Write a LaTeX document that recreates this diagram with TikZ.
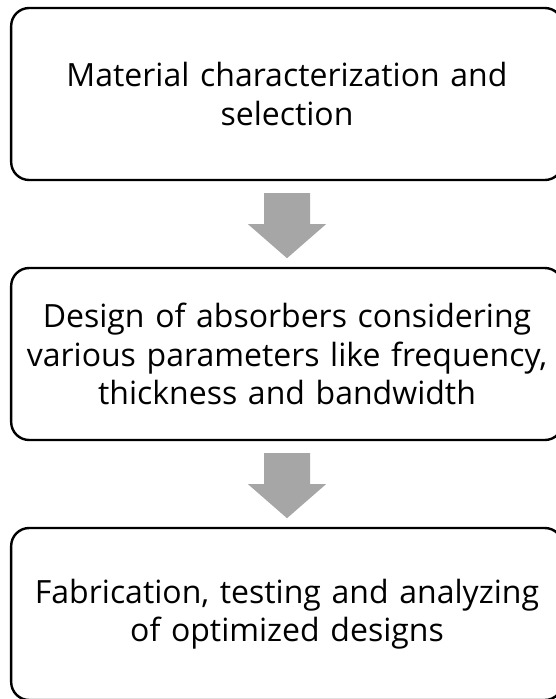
\documentclass[tikz,border=0pt]{standalone}
\usepackage{fontspec}
\setmainfont{Open Sans}
\usepackage{tikz}
\usetikzlibrary{calc}
\tikzstyle{stage} = [rectangle, rounded corners=18pt, draw=black, line width=2.4pt, fill=white, minimum width=550pt, minimum height=172pt, text width=545pt, align=center, font=\fontsize{32}{38.5}\selectfont]
\tikzstyle{blockarrow} = [fill=black!35, draw=none]
\newcommand{\downarrowbetween}[1]{%
  \fill[blockarrow] ($(#1)+(-23pt,-12pt)$) -- ++(46pt,0) -- ++(0,-31pt) -- ++(16pt,0)
    -- ($(#1)+(0,-77pt)$) -- ($(#1)+(-39pt,-43pt)$) -- ++(16pt,0) -- cycle;}

\begin{document}
\begin{tikzpicture}
            \useasboundingbox (0,0) rectangle (555pt,-699pt);
            \node [stage] at (287pt,-94pt) (select) {Material characterization and\\selection};
            \node [stage] at (287pt,-354pt) (design) {Design of absorbers considering\\various parameters like frequency,\\thickness and bandwidth};
            \node [stage] at (287pt,-614pt) (fabricate) {Fabrication, testing and analyzing\\of optimized designs};

            \downarrowbetween{select.south}
            \downarrowbetween{design.south}
            \end{tikzpicture}
\end{document}
